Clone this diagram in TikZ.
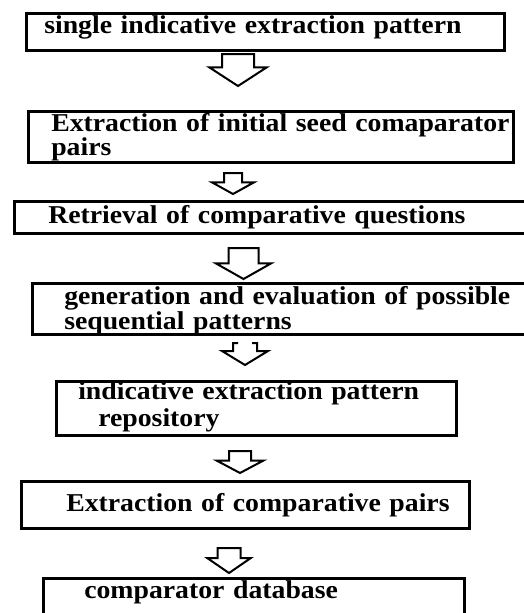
\documentclass[tikz,border=0pt]{standalone}
\usepackage{fontspec}
\setmainfont{Liberation Serif}[FakeStretch=1.08]
\usetikzlibrary{shapes.arrows}

\begin{document}
\begin{tikzpicture}[x=1pt, y=-1pt]
\tikzstyle{stage} = [rectangle, draw, line width=2.5pt, anchor=north west, inner sep=0pt, align=left, font={\fontsize{25.7}{23}\selectfont\bfseries\lineskiplimit=-100pt}]
\tikzstyle{flow} = [single arrow, draw, line width=2pt, rotate=-90, anchor=west, inner xsep=0pt, single arrow head indent=0pt]

\useasboundingbox (0,0) rectangle (524,613);
\clip (0,0) rectangle (524,613);

\node (s1) [stage, text width=478pt, text height=20pt, text depth=17pt] at (25,12) {\hspace*{18pt}single indicative extraction pattern};
\node (s2) [stage, text width=485pt, text height=20pt, text depth=31pt] at (27,110) {\hspace*{23pt}Extraction of initial seed comaparator\\[1pt]\hspace*{23pt}pairs};
\node (s3) [stage, text width=530pt, text height=22pt, text depth=10pt] at (13,200) {\hspace*{34pt}Retrieval of comparative questions};
\node (s4) [stage, text width=514pt, text height=21pt, text depth=30pt] at (31,282) {\hspace*{32pt}generation and evaluation of possible\\[2pt]\hspace*{32pt}sequential patterns};
\node (s5) [stage, text width=400pt, text height=18pt, text depth=36pt] at (55,380) {\hspace*{22pt}indicative extraction pattern\\[4pt]\hspace*{42pt}repository};
\node (s6) [stage, text width=448pt, text height=30pt, text depth=17pt] at (20,480) {\hspace*{45pt}Extraction of comparative pairs};
\node (s7) [stage, text width=421pt, text height=20pt, text depth=60pt] at (42,577) {\hspace*{41pt}comparator database};

% block arrows between the stages
\node (a1) [flow, minimum height=32pt, minimum width=55pt, inner ysep=15pt, single arrow head extend=12.5pt, single arrow tip angle=114] at (238,53) {};
\node (a2) [flow, minimum height=21pt, minimum width=40pt, inner ysep=8pt, single arrow head extend=12pt, single arrow tip angle=122] at (233,172) {};
\node (a3) [flow, minimum height=31pt, minimum width=53pt, inner ysep=14pt, single arrow head extend=12.5pt, single arrow tip angle=121] at (243.5,247) {};
\coordinate (a4) at (245,343);
\draw[line width=2pt] (a4) ++(-7,0) -- ++(-5,0) -- ++(0,8) -- ++(-11,0) -- ++(23,14) -- ++(23,-14) -- ++(-11,0) -- ++(0,-8) -- ++(-5,0);
\node (a5) [flow, minimum height=22pt, minimum width=45pt, inner ysep=10pt, single arrow head extend=12.5pt, single arrow tip angle=124] at (240,450) {};
\node (a6) [flow, minimum height=25pt, minimum width=41pt, inner ysep=10.5pt, single arrow head extend=10pt, single arrow tip angle=111] at (229,547) {};

\end{tikzpicture}
\end{document}
